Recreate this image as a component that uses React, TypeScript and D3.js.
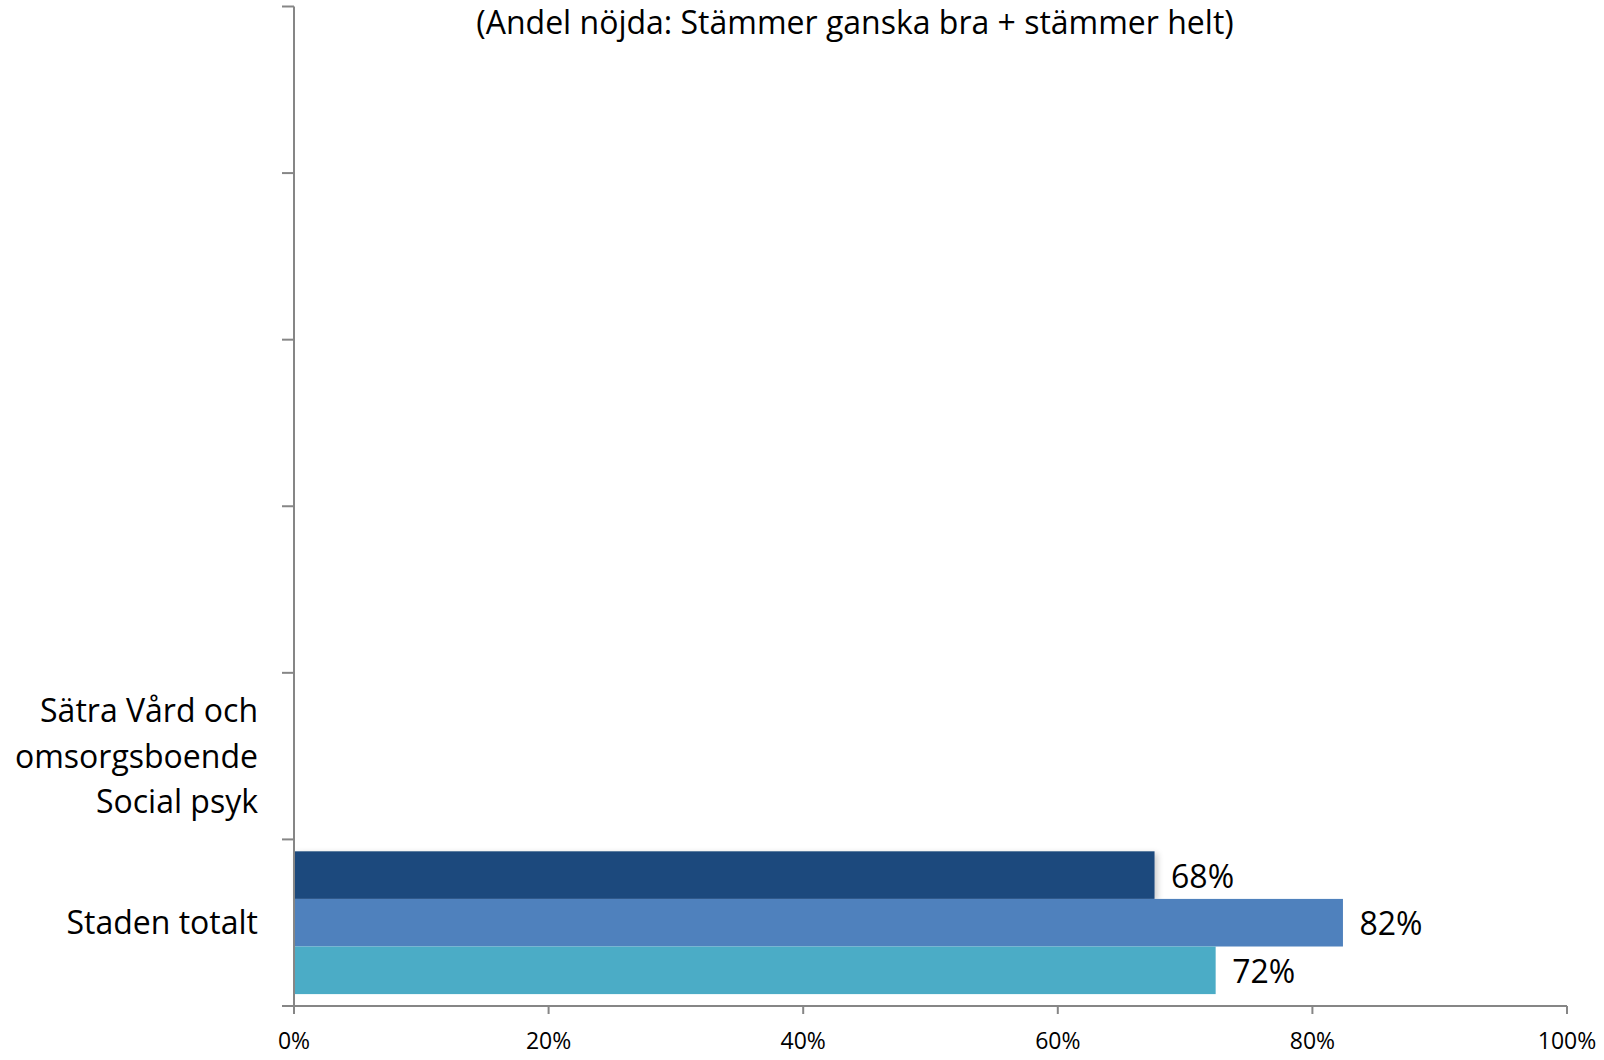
import React from "react";
import * as d3 from "d3";

const title = "(Andel nöjda: Stämmer ganska bra + stämmer helt)";
const categories = ["", "", "", "", "Sätra Vård och\nomsorgsboende\nSocial psyk", "Staden totalt"];
const seriesNames = ["Serie 1", "Serie 2", "Serie 3"];
const seriesColors = ["#1F497D", "#4F81BD", "#4BACC6"];
// values per series, one entry per category (null = no bar)
const series1 = [null, null, null, null, null, 0.676];
const series2 = [null, null, null, null, null, 0.824];
const series3 = [null, null, null, null, null, 0.724];
const seriesValues = [series1, series2, series3];
const xTicks = [0, 0.2, 0.4, 0.6, 0.8, 1.0];

const W = 1604;
const H = 1060;
const left = 294;
const right = 1567;
const top = 6.5;
const bottom = 1006;
const FONT = "'Open Sans', sans-serif";
const AXIS = "#868686";

export default function App() {
  const x = d3.scaleLinear().domain([0, 1]).range([left, right]);
  const y = d3
    .scaleBand<number>()
    .domain(categories.map((_, i) => i))
    .range([top, bottom])
    .paddingInner(0)
    .paddingOuter(0);
  const bw = y.bandwidth();
  const inner = d3
    .scaleBand<number>()
    .domain(seriesNames.map((_, i) => i))
    .range([0, bw])
    .paddingOuter(0.25)
    .paddingInner(0);
  const fmt = d3.format(".0%");

  return (
    <svg
      width={W}
      height={H}
      style={{ position: "absolute", left: 0, top: 0, background: "#fff" }}
      fontFamily={FONT}
    >
      <defs>
        <filter id="sh" x="-5%" y="-20%" width="115%" height="160%">
          <feGaussianBlur in="SourceAlpha" stdDeviation="3" />
          <feOffset dx="3" dy="2" result="b" />
          <feComponentTransfer>
            <feFuncA type="linear" slope="0.2" />
          </feComponentTransfer>
          <feMerge>
            <feMergeNode />
            <feMergeNode in="SourceGraphic" />
          </feMerge>
        </filter>
      </defs>
      <text x={855} y={34} textAnchor="middle" fontSize={32} fill="#000">
        {title}
      </text>

      {/* bars */}
      {seriesValues.map((vals, s) =>
        vals.map((v, i) =>
          v == null ? null : (
            <g key={`b${s}-${i}`}>
              <rect
                x={x(0)}
                y={(y(i) as number) + (inner(s) as number)}
                width={x(v) - x(0)}
                height={inner.bandwidth()}
                fill={seriesColors[s]}
                filter={s === 0 ? "url(#sh)" : undefined}
              />
              <text
                x={x(v) + 16.5}
                y={(y(i) as number) + (inner(s) as number) + inner.bandwidth() / 2 + 12.5}
                fontSize={32}
                fill="#000"
              >
                {fmt(v)}
              </text>
            </g>
          )
        )
      )}

      {/* y axis */}
      <line x1={left} x2={left} y1={top} y2={bottom + 7} stroke={AXIS} strokeWidth={2} />
      {d3.range(categories.length + 1).map((k) => {
        const yy = top + k * bw;
        return <line key={`yt${k}`} x1={left - 12} x2={left} y1={yy} y2={yy} stroke={AXIS} strokeWidth={2} />;
      })}
      {categories.map((c, i) => {
        const lines = c.split("\n").filter((l) => l.length > 0);
        const cy = (y(i) as number) + bw / 2;
        const lh = 45.3;
        const n = lines.length;
        return (
          <text key={`yl${i}`} textAnchor="end" fontSize={32} fill="#000">
            {lines.map((l, j) => (
              <tspan key={j} x={258} y={cy + 11.5 + (j - (n - 1) / 2) * lh}>
                {l}
              </tspan>
            ))}
          </text>
        );
      })}

      {/* x axis */}
      <line x1={left - 12} x2={right} y1={bottom} y2={bottom} stroke={AXIS} strokeWidth={2} />
      {xTicks.map((t) => (
        <g key={`xt${t}`}>
          <line x1={x(t)} x2={x(t)} y1={bottom} y2={bottom + 8} stroke={AXIS} strokeWidth={2} />
          <text x={x(t)} y={1049} textAnchor="middle" fontSize={23} fill="#000">
            {fmt(t)}
          </text>
        </g>
      ))}
    </svg>
  );
}
